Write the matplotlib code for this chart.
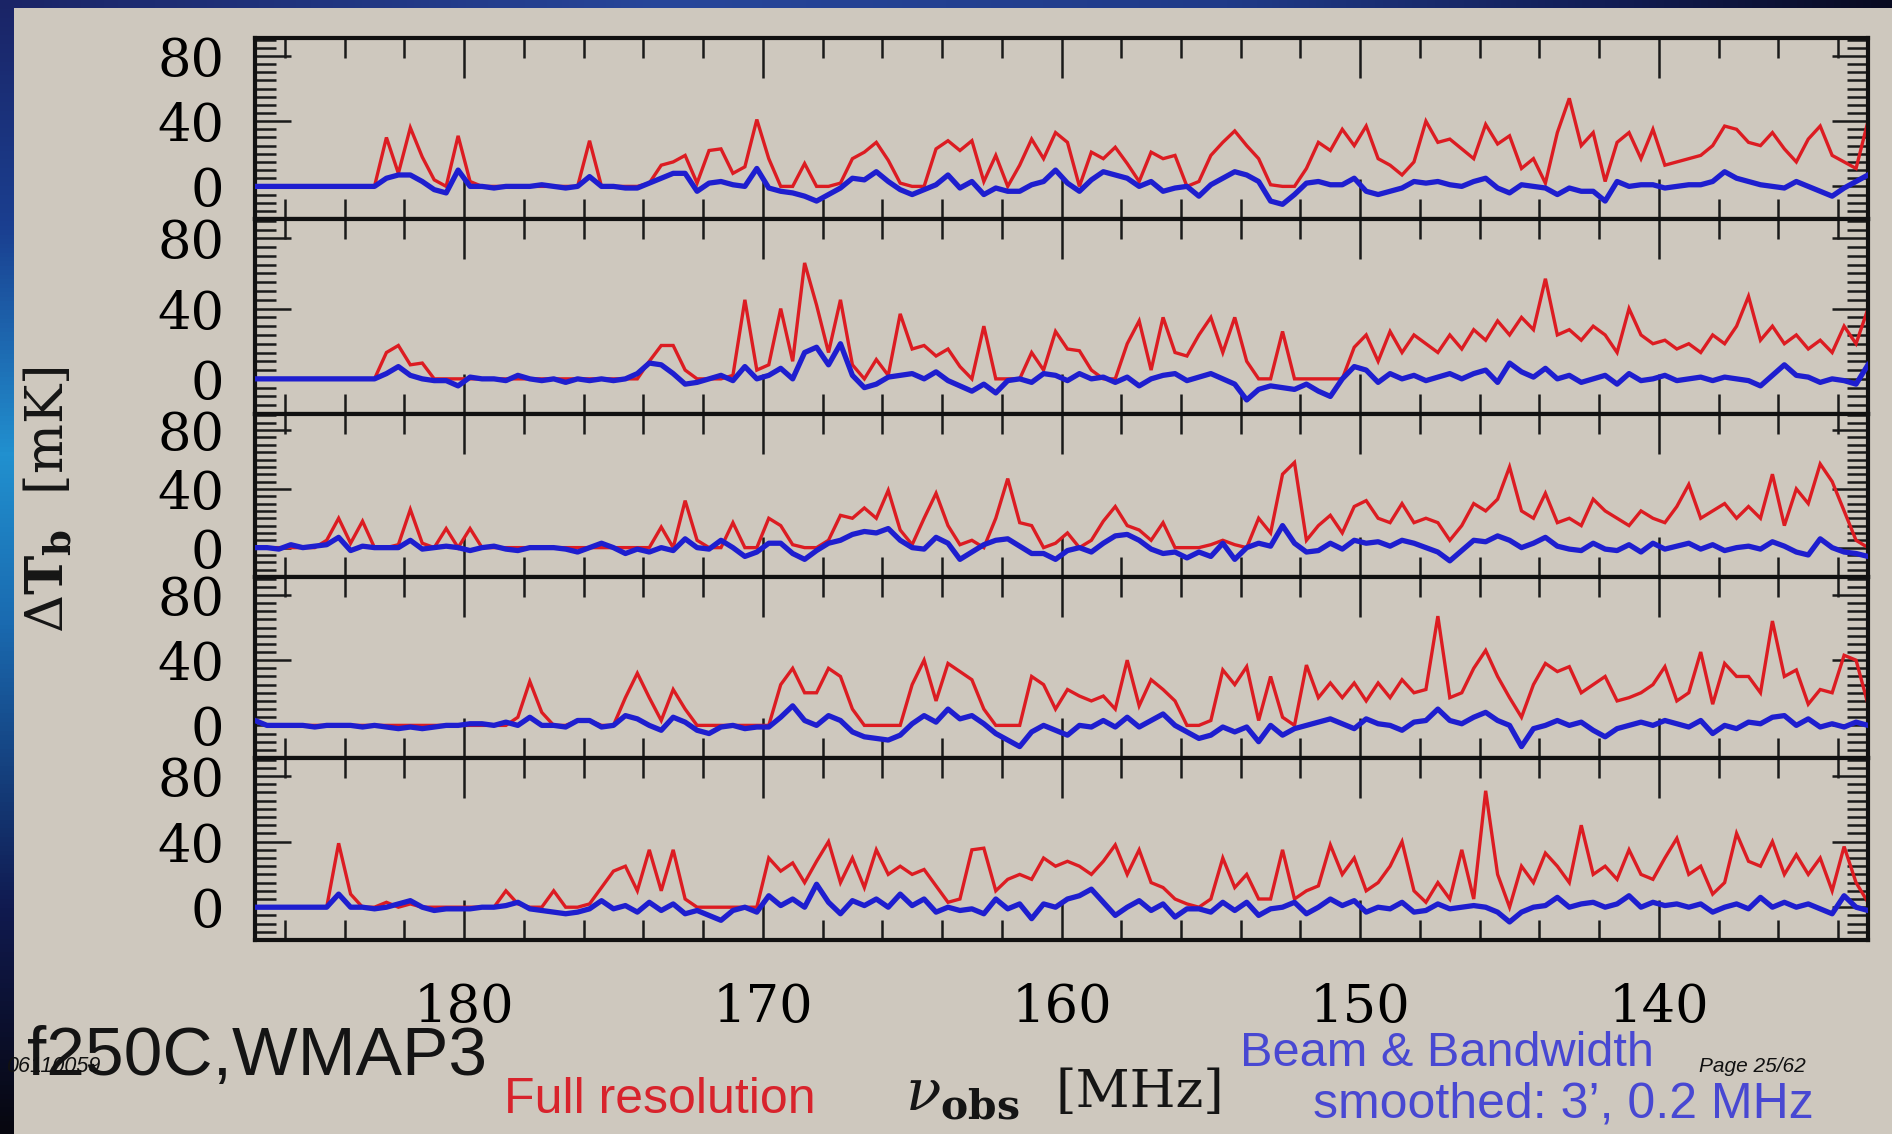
import numpy as np
import matplotlib
matplotlib.use("Agg")
import matplotlib.pyplot as plt
from matplotlib.ticker import MultipleLocator, FixedLocator
from matplotlib.colors import LinearSegmentedColormap

plt.rcParams["mathtext.fontset"] = "dejavuserif"

# Observed frequency channels [MHz], 0.4 MHz spacing from 187 down to 133
freq = np.linspace(187.0, 133.0, 136)

# Line-of-sight brightness-temperature spectra, dT_b [mK]
# Full resolution (red) and beam & bandwidth smoothed (blue), five sight lines
red_1 = [0, 0, 0, 0, 0, 0, 0, 0, 0, 0,
         0, 30, 8, 36, 18, 4, 0, 31, 3, 0,
         0, 0, 0, 0, 0, 0, 0, 0, 28, 0,
         0, 0, 0, 2, 13, 15, 19, 2, 22, 23,
         8, 12, 41, 17, 0, 0, 14, 0, 0, 2,
         17, 21, 27, 16, 2, 0, 0, 23, 28, 22,
         28, 3, 19, 0, 13, 29, 17, 33, 27, 0,
         21, 17, 24, 14, 3, 21, 17, 19, 0, 3,
         19, 27, 34, 25, 17, 1, 0, 0, 11, 27,
         22, 35, 25, 37, 17, 13, 7, 15, 40, 27,
         29, 23, 17, 38, 26, 31, 11, 17, 2, 33,
         54, 25, 33, 3, 27, 33, 17, 35, 13, 15,
         17, 19, 25, 37, 35, 27, 25, 33, 23, 15,
         29, 37, 19, 15, 11, 40]
blue_1 = [0, 0, 0, 0, 0, 0, 0, 0, 0, 0,
          0, 5, 7, 7, 3, -2, -4, 10, 0, 0,
          -1, 0, 0, 0, 1, 0, -1, 0, 6, 0,
          0, -1, -1, 2, 5, 8, 8, -3, 2, 3,
          1, 0, 11, -1, -3, -4, -6, -9, -5, -1,
          5, 4, 9, 3, -2, -5, -2, 1, 7, -1,
          3, -5, -1, -3, -3, 1, 3, 10, 2, -3,
          4, 9, 7, 5, 0, 3, -3, -1, 0, -6,
          1, 5, 9, 7, 3, -9, -11, -5, 2, 3,
          1, 1, 5, -3, -5, -3, -1, 3, 2, 3,
          1, 0, 3, 5, -1, -4, 1, 0, -1, -5,
          -1, -3, -3, -9, 3, 0, 1, 1, -1, 0,
          1, 1, 3, 9, 5, 3, 1, 0, -1, 3,
          0, -3, -6, -1, 3, 7]

red_2 = [0, 0, 0, 0, 0, 0, 0, 0, 0, 0,
         0, 15, 19, 8, 9, 0, 0, 0, 0, 0,
         0, 0, 0, 0, 0, 0, 0, 0, 0, 0,
         0, 0, 0, 10, 19, 19, 5, 0, 0, 0,
         2, 45, 5, 8, 40, 10, 66, 42, 15, 45,
         8, 0, 11, 2, 37, 17, 19, 13, 17, 7,
         0, 30, 0, 0, 0, 15, 5, 27, 17, 16,
         5, 0, 0, 20, 33, 5, 35, 15, 13, 25,
         35, 15, 35, 10, 0, 0, 27, 0, 0, 0,
         0, 0, 18, 25, 10, 27, 15, 25, 20, 15,
         25, 17, 28, 22, 33, 25, 35, 28, 57, 25,
         28, 22, 30, 25, 15, 40, 25, 20, 22, 17,
         20, 15, 25, 20, 30, 47, 22, 30, 20, 25,
         17, 22, 15, 30, 20, 40]
blue_2 = [0, 0, 0, 0, 0, 0, 0, 0, 0, 0,
          0, 3, 7, 2, 0, -1, -1, -4, 1, 0,
          0, -1, 2, 0, -1, 0, -2, 0, -1, 0,
          -1, 0, 3, 9, 8, 3, -3, -2, 0, 2,
          -1, 7, 0, 2, 6, 0, 15, 18, 8, 20,
          2, -5, -3, 1, 2, 3, 0, 4, -1, -4,
          -7, -3, -8, -1, 0, -2, 3, 2, -1, 3,
          0, 1, -2, 1, -4, 0, 2, 3, -1, 1,
          3, 0, -3, -12, -6, -4, -5, -6, -3, -7,
          -10, 0, 7, 5, -2, 3, 0, 2, -1, 1,
          3, 0, 3, 5, -2, 9, 4, 1, 6, 0,
          2, -2, 0, 2, -3, 3, -1, 0, 2, -1,
          0, 1, -1, 1, 0, -1, -4, 2, 8, 2,
          1, -2, 0, -1, -3, 8]

red_3 = [0, 0, 0, 0, 0, 0, 5, 20, 3, 18,
         0, 0, 2, 26, 3, 0, 13, 0, 13, 0,
         0, 0, 0, 0, 0, 0, 0, 0, 0, 0,
         0, 0, 0, 0, 14, 0, 32, 5, 0, 0,
         17, 0, 0, 20, 15, 2, 0, 0, 5, 22,
         20, 27, 20, 39, 12, 2, 20, 37, 15, 2,
         5, 0, 20, 47, 17, 15, 0, 3, 10, 0,
         5, 18, 28, 15, 12, 5, 17, 0, 0, 0,
         2, 5, 2, 0, 20, 10, 50, 58, 5, 15,
         22, 10, 28, 32, 20, 17, 30, 17, 20, 17,
         5, 15, 30, 25, 33, 55, 25, 20, 37, 17,
         20, 15, 33, 25, 20, 15, 25, 20, 17, 28,
         43, 20, 25, 30, 20, 28, 20, 50, 15, 40,
         30, 57, 45, 25, 5, 0]
blue_3 = [0, 0, -1, 2, 0, 1, 2, 7, -2, 1,
          0, 0, 0, 5, -1, 0, 1, 0, -2, 0,
          1, -1, -2, 0, 0, 0, -1, -3, 0, 3,
          0, -4, -1, -3, 0, -2, 6, 0, -1, 5,
          0, -6, -3, 3, 3, -4, -8, -2, 3, 5,
          9, 11, 10, 13, 5, 0, -1, 7, 3, -8,
          -3, 2, 5, 6, 1, -4, -4, -8, -2, 0,
          -3, 3, 8, 9, 5, -1, -4, -3, -7, -3,
          -6, 3, -8, 0, 3, 1, 15, 3, -3, -2,
          3, -1, 5, 3, 4, 1, 5, 3, 0, -3,
          -9, -2, 5, 4, 8, 5, 0, 3, 7, 1,
          -1, -2, 3, -1, -2, 2, -3, 3, -1, 1,
          3, -1, 2, -2, 0, 1, -1, 4, 1, -3,
          -5, 6, 0, -3, -4, -6]

red_4 = [3, 0, 0, 0, 0, 0, 0, 0, 0, 0,
         0, 0, 0, 0, 0, 0, 0, 0, 0, 0,
         0, 0, 5, 27, 8, 0, 0, 3, 3, 0,
         0, 17, 32, 17, 3, 22, 10, 0, 0, 0,
         0, 0, 0, 0, 25, 35, 20, 20, 35, 30,
         10, 0, 0, 0, 0, 25, 40, 15, 38, 33,
         28, 10, 0, 0, 0, 30, 25, 10, 22, 18,
         15, 18, 10, 40, 12, 28, 22, 15, 0, 0,
         3, 34, 25, 36, 3, 30, 5, 0, 37, 17,
         26, 17, 26, 15, 26, 17, 28, 20, 22, 67,
         17, 20, 35, 46, 30, 17, 5, 25, 38, 33,
         36, 20, 25, 30, 15, 17, 20, 25, 36, 15,
         20, 45, 13, 38, 30, 30, 20, 64, 30, 34,
         13, 22, 20, 43, 40, 13]
blue_4 = [3, 0, 0, 0, 0, -1, 0, 0, 0, -1,
          0, -1, -2, -1, -2, -1, 0, 0, 1, 1,
          0, 2, 0, 5, 0, 0, -1, 3, 3, -1,
          0, 6, 4, 0, -3, 5, 2, -3, -5, -1,
          0, -2, -1, -1, 5, 12, 3, 0, 6, 3,
          -4, -7, -8, -9, -6, 1, 6, 2, 10, 4,
          6, 1, -5, -9, -13, -4, 0, -3, -6, 0,
          -1, 3, -1, 5, -1, 3, 7, 0, -4, -8,
          -6, -1, -4, -1, -10, 0, -6, -2, 0, 2,
          4, 1, -2, 4, 1, 0, -3, 2, 3, 10,
          3, 1, 5, 8, 3, 0, -13, -2, 0, 3,
          0, 2, -3, -7, -2, 0, 2, 0, 3, 1,
          -1, 3, -5, 0, -2, 2, 1, 5, 6, 0,
          4, -1, 1, -1, 2, 0]

red_5 = [0, 0, 0, 0, 0, 0, 0, 39, 8, 0,
         0, 3, 0, 2, 0, 0, 0, 0, 0, 0,
         0, 10, 2, 0, 0, 10, 0, 0, 2, 12,
         22, 25, 10, 35, 10, 35, 5, 0, 0, 0,
         0, 0, 0, 30, 22, 27, 15, 28, 40, 15,
         30, 12, 35, 20, 25, 20, 23, 13, 3, 5,
         35, 36, 10, 17, 20, 17, 30, 25, 28, 25,
         20, 28, 38, 20, 35, 15, 12, 5, 2, 0,
         5, 30, 12, 20, 5, 5, 35, 5, 10, 13,
         38, 20, 30, 10, 15, 25, 40, 10, 3, 15,
         5, 35, 5, 71, 20, 0, 25, 15, 33, 25,
         15, 50, 20, 25, 17, 35, 20, 17, 30, 42,
         20, 25, 8, 15, 45, 28, 25, 40, 20, 32,
         20, 30, 10, 37, 15, 3]
blue_5 = [0, 0, 0, 0, 0, 0, 0, 8, 0, 0,
          -1, 0, 2, 4, 0, -2, -1, -1, -1, 0,
          0, 1, 3, -1, -2, -3, -4, -3, -1, 4,
          -1, 1, -3, 3, -2, 2, -4, -2, -5, -8,
          -2, 0, -3, 7, 1, 5, 0, 14, 3, -4,
          4, 1, 5, 0, 8, 1, 5, -3, 0, -2,
          -1, -4, 5, -1, 2, -7, 2, 0, 5, 7,
          11, 3, -5, 0, 4, -2, 2, -6, -1, -1,
          -3, 3, -2, 3, -5, -1, 0, 3, -4, 0,
          5, 1, 4, -3, 0, -1, 3, -3, -2, 2,
          -1, 0, 1, 0, -3, -9, -3, 0, 1, 6,
          0, 2, 3, 0, 2, 7, 0, 3, 1, 2,
          0, 2, -3, 0, 2, -1, 6, 0, 3, 0,
          2, -1, -4, 7, 0, -2]

full_res = [red_1, red_2, red_3, red_4, red_5]
smoothed = [blue_1, blue_2, blue_3, blue_4, blue_5]
for r, b in zip(full_res, smoothed):
    assert len(r) == len(freq) and len(b) == len(freq)

x_major_ticks = [180, 170, 160, 150, 140]
y_major_ticks = [0, 40, 80]

# ---- styling ----
BG = "#cec8be"
RED = "#dc1c22"
BLUE = "#1e1ecf"
SERIF = "DejaVu Serif"
SANS = "Liberation Sans"

W, H = 1892, 1134
fig = plt.figure(figsize=(W / 100, H / 100), dpi=100, facecolor=BG)

gs = fig.add_gridspec(
    5, 1, left=255 / W, right=1868 / W, top=1 - 38 / H, bottom=1 - 940 / H,
    hspace=0, height_ratios=[181, 195, 163, 181, 182])

axes = [fig.add_subplot(gs[i, 0]) for i in range(5)]
for i, ax in enumerate(axes):
    ax.set_facecolor(BG)
    ax.plot(freq, full_res[i], color=RED, lw=2.4, zorder=2, solid_joinstyle="miter")
    ax.plot(freq, smoothed[i], color=BLUE, lw=3.8, zorder=3)
    ax.set_xlim(187, 133)
    ax.set_ylim(-20, 91)
    ax.xaxis.set_major_locator(FixedLocator(x_major_ticks))
    ax.xaxis.set_minor_locator(MultipleLocator(2))
    ax.yaxis.set_major_locator(FixedLocator(y_major_ticks))
    ax.yaxis.set_minor_locator(MultipleLocator(5))
    ax.tick_params(axis="both", which="both", direction="in", top=True,
                   right=True, color="#1a1a1a", width=1.8)
    ax.tick_params(axis="x", which="major", length=29)
    ax.tick_params(axis="x", which="minor", length=14.5)
    ax.tick_params(axis="y", which="major", length=26)
    ax.tick_params(axis="y", which="minor", length=15)
    ax.tick_params(axis="y", which="major", labelsize=38, pad=22)
    for lab in ax.get_yticklabels():
        lab.set_fontfamily(SERIF)
    for sp in ax.spines.values():
        sp.set_linewidth(3.0)
        sp.set_color("#111111")
    if i < 4:
        ax.tick_params(axis="x", labelbottom=False)
    else:
        ax.tick_params(axis="x", which="major", labelsize=38, pad=30)
        for lab in ax.get_xticklabels():
            lab.set_fontfamily(SERIF)

# axis titles
fig.text(48 / W, 1 - 500 / H, r"$\Delta\mathbf{T_b}$  [mK]", rotation=90,
         ha="center", va="center", fontsize=38, family=SERIF, color="#151515")
fig.text(905 / W, 1 - 1095 / H, r"$\nu_{\mathbf{obs}}$", ha="left", va="center",
         fontsize=42, family=SERIF, color="#151515")
fig.text(1056 / W, 1 - 1092 / H, "[MHz]", ha="left", va="center",
         fontsize=38, family=SERIF, color="#151515")

# annotations
fig.text(27 / W, 1 - 1057 / H, "f250C,WMAP3", ha="left", va="center",
         fontsize=50, family=SANS, color="#141414")
fig.text(6 / W, 1 - 1067 / H, "06110059", ha="left", va="center",
         fontsize=15.5, family=SANS, style="italic", color="#111111")
fig.text(504 / W, 1 - 1100 / H, "Full resolution", ha="left", va="center",
         fontsize=36, family=SANS, color="#d8232c")
fig.text(1240 / W, 1 - 1053 / H, "Beam & Bandwidth", ha="left", va="center",
         fontsize=35, family=SANS, color="#4848d2")
fig.text(1313 / W, 1 - 1105 / H, "smoothed: 3\u2019, 0.2 MHz", ha="left", va="center",
         fontsize=36, family=SANS, color="#4848d2")
fig.text(1699 / W, 1 - 1067 / H, "Page 25/62", ha="left", va="center",
         fontsize=15, family=SANS, style="italic", color="#111111")

# slide frame: blue gradient along the left and top edges
left_cmap = LinearSegmentedColormap.from_list(
    "edge_v", [(0.0, "#07070f"), (0.2, "#101a50"), (0.45, "#1a6ab0"),
               (0.6, "#2190cf"), (0.8, "#1a3f90"), (1.0, "#1a2466")])
edge = fig.add_axes([0, 0, 13 / W, 1])
edge.imshow(np.linspace(0, 1, 256)[:, None], aspect="auto", cmap=left_cmap,
            extent=[0, 1, 0, 1], origin="lower")
edge.axis("off")

top_cmap = LinearSegmentedColormap.from_list(
    "edge_h", [(0.0, "#1a2466"), (0.35, "#27469a"), (0.65, "#1f3a88"),
               (0.85, "#121d55"), (1.0, "#080a20")])
band = fig.add_axes([0, 1 - 8 / H, 1, 8 / H])
band.imshow(np.linspace(0, 1, 256)[None, :], aspect="auto", cmap=top_cmap,
            extent=[0, 1, 0, 1])
band.axis("off")

fig.savefig("out.png", dpi=100, facecolor=BG)
